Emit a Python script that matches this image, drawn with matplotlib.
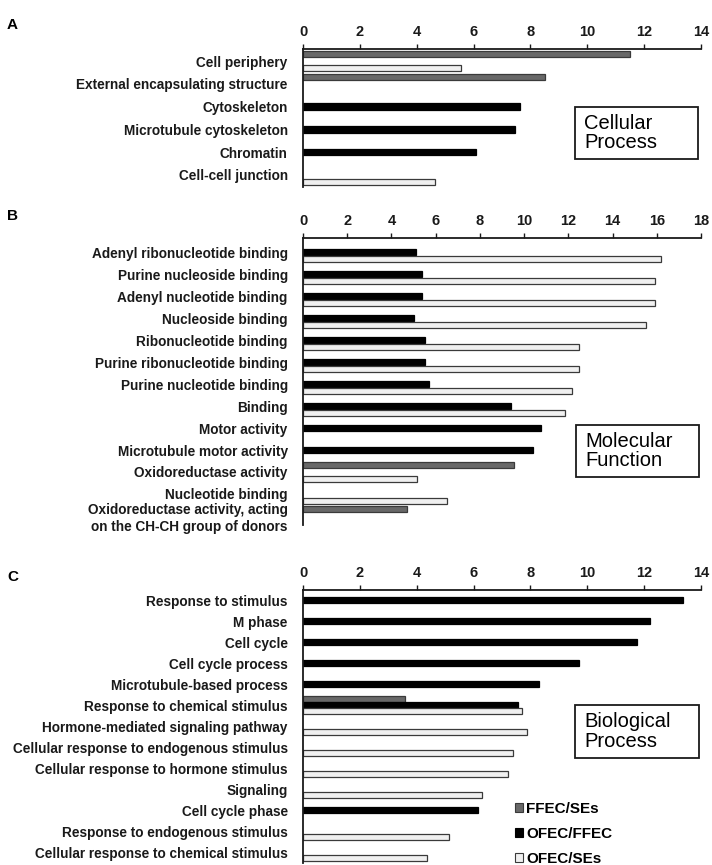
import numpy as np
import matplotlib
matplotlib.use('Agg')
import matplotlib.pyplot as plt
from matplotlib.patches import Patch, Rectangle

# Fonts
FONT = ['Liberation Sans Narrow', 'Liberation Sans', 'DejaVu Sans']
plt.rcParams['font.family'] = FONT

# Data
#---------------------------------------------
seriesnames = ['FFEC/SEs', 'OFEC/FFEC', 'OFEC/SEs']

cellcats = ['Cell periphery', 'External encapsulating structure', 'Cytoskeleton',
            'Microtubule cytoskeleton', 'Chromatin', 'Cell-cell junction']
cellffecses = [11.5, 8.5, 0, 0, 0, 0]
cellofecffec = [0, 0, 7.65, 7.45, 6.1, 0]
cellofecses = [5.55, 0, 0, 0, 0, 4.65]

molcats = ['Adenyl ribonucleotide binding', 'Purine nucleoside binding',
           'Adenyl nucleotide binding', 'Nucleoside binding', 'Ribonucleotide binding',
           'Purine ribonucleotide binding', 'Purine nucleotide binding', 'Binding',
           'Motor activity', 'Microtubule motor activity', 'Oxidoreductase activity',
           'Nucleotide binding',
           'Oxidoreductase activity, acting\non the CH-CH group of donors']
molffecses = [0, 0, 0, 0, 0, 0, 0, 0, 0, 0, 9.55, 0, 4.7]
molofecffec = [5.1, 5.4, 5.4, 5.0, 5.5, 5.5, 5.7, 9.4, 10.75, 10.4, 0, 0, 0]
molofecses = [16.2, 15.9, 15.9, 15.5, 12.5, 12.5, 12.15, 11.85, 0, 0, 5.15, 6.5, 0]

biocats = ['Response to stimulus', 'M phase', 'Cell cycle', 'Cell cycle process',
           'Microtubule-based process', 'Response to chemical stimulus',
           'Hormone-mediated signaling pathway',
           'Cellular response to endogenous stimulus',
           'Cellular response to hormone stimulus', 'Signaling', 'Cell cycle phase',
           'Response to endogenous stimulus',
           'Cellular response to chemical stimulus']
bioffecses = [0, 0, 0, 0, 0, 3.6, 0, 0, 0, 0, 0, 0, 0]
bioofecffec = [13.35, 12.2, 11.75, 9.7, 8.3, 7.58, 0, 0, 0, 0, 6.15, 0, 0]
bioofecses = [0, 0, 0, 0, 0, 7.7, 7.88, 7.37, 7.22, 6.3, 0, 5.15, 4.35]

# Styles
COLORS = ['#686868', '#000000', '#f0f0f0']
EDGES = ['#3a3a3a', '#000000', '#3a3a3a']
W, H = 712, 865


def drawPanel(rect, cats, series, xmax, ylims, letter, letterpos, boxrect, boxtext):
    # rect in pixels: left, top, right, bottom
    l, t, r, b = rect
    ax = fig.add_axes([l / W, 1 - b / H, (r - l) / W, (b - t) / H])
    ypos = np.arange(len(cats))
    offsets = [-0.3, 0, 0.3]
    for k, vals in enumerate(series):
        vals = np.array(vals, dtype=float)
        keep = vals > 0
        ax.barh(ypos[keep] + offsets[k], vals[keep], height=0.28,
                color=COLORS[k], edgecolor=EDGES[k], linewidth=0.9)
    ax.set_xlim(0, xmax)
    ax.set_ylim(ylims[1], ylims[0])
    ax.set_xticks(np.arange(0, xmax + 1, 2))
    ax.set_yticks(ypos)
    ax.set_yticklabels(cats, fontweight='bold', fontsize=9.8, color='#1a1a1a',
                       linespacing=1.25)
    ax.xaxis.tick_top()
    ax.tick_params(axis='x', direction='out', length=3.5, width=1.0, pad=4,
                   labelsize=10.5, colors='#1a1a1a')
    for lab in ax.get_xticklabels():
        lab.set_fontweight('bold')
    ax.tick_params(axis='y', length=0, pad=11)
    for side in ['right', 'bottom']:
        ax.spines[side].set_visible(False)
    for side in ['left', 'top']:
        ax.spines[side].set_linewidth(1.3)
        ax.spines[side].set_color('#1a1a1a')

    # Panel letter
    fig.text(letterpos[0] / W, 1 - letterpos[1] / H, letter, fontsize=11,
             fontweight='bold', family=['Liberation Sans', 'DejaVu Sans'],
             va='center', ha='left')

    # Box
    bl, bt, br, bb = boxrect
    fig.add_artist(Rectangle((bl / W, 1 - bb / H), (br - bl) / W, (bb - bt) / H,
                             transform=fig.transFigure, facecolor='white',
                             edgecolor='#1a1a1a', linewidth=1.3))
    fig.text((bl + 9) / W, 1 - (bt + bb) / 2 / H, boxtext, fontsize=14.5,
             va='center', ha='left', linespacing=1.05)
    return ax


fig = plt.figure(figsize=(W / 100, H / 100), dpi=100)

drawPanel((303, 49, 701, 187), cellcats,
          [cellffecses, cellofecffec, cellofecses], 14, (-0.53, 5.53),
          'A', (7, 25), (575, 107, 698, 159), 'Cellular\nProcess')

drawPanel((303, 238, 701, 525), molcats,
          [molffecses, molofecffec, molofecses], 18, (-0.64, 12.41),
          'B', (7, 216), (576, 425, 699, 477), 'Molecular\nFunction')

drawPanel((303, 590, 701, 863), biocats,
          [bioffecses, bioofecffec, bioofecses], 14, (-0.48, 12.52),
          'C', (7, 577), (575, 705, 699, 758), 'Biological\nProcess')

# Legend
handles = [Patch(facecolor=COLORS[k], edgecolor=EDGES[k], linewidth=0.8)
           for k in range(3)]
fig.legend(handles, seriesnames, loc='upper left',
           bbox_to_anchor=(515 / W, 1 - 802 / H), frameon=False,
           handlelength=0.55, handleheight=0.55, handletextpad=0.2,
           labelspacing=0.72, borderpad=0, borderaxespad=0,
           prop={'weight': 'bold', 'size': 11, 'family': FONT})

fig.savefig('out.png', dpi=100)
